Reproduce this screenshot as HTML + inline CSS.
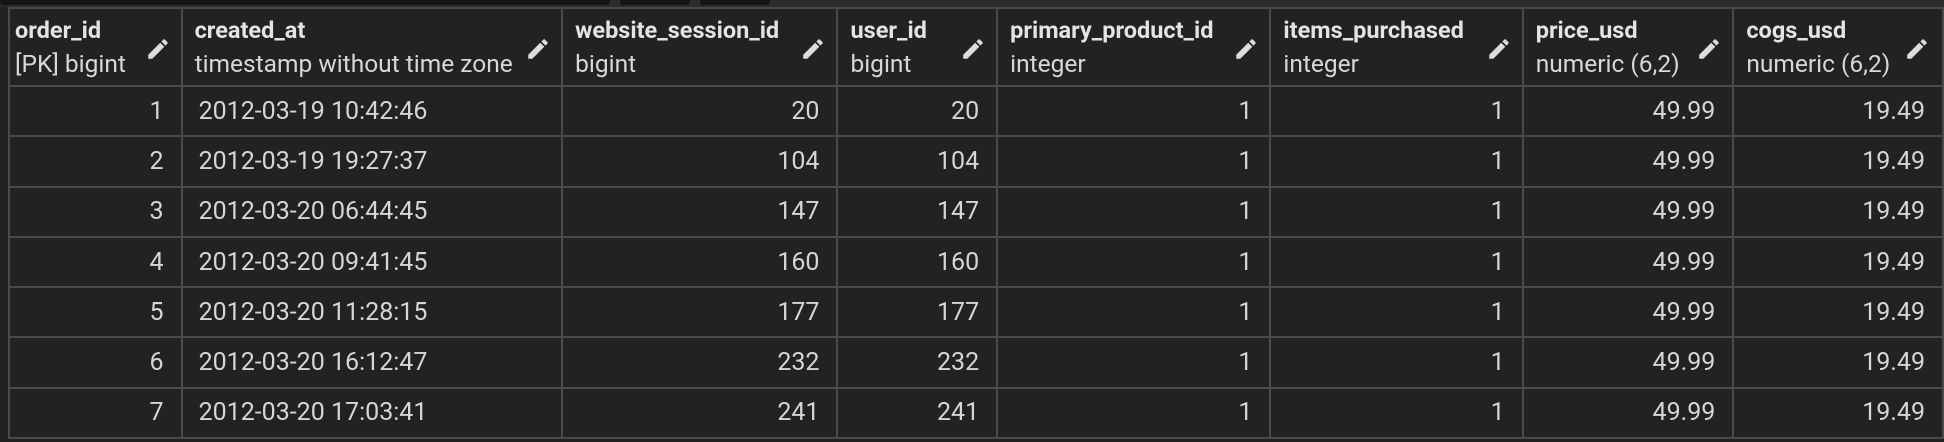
<!DOCTYPE html>
<html><head><meta charset="utf-8"><style>
html,body{margin:0;padding:0;background:#222;width:1944px;height:442px;overflow:hidden;font-family:"Roboto","Liberation Sans",sans-serif;}
#w{position:absolute;left:0;top:0;width:1944px;height:442px;overflow:hidden;background:#222;}
.top{position:absolute;left:0;top:0;width:1944px;height:7px;background:#2c2c2c;}
.top i{position:absolute;top:0;height:5px;background:#141414;border-radius:0 0 3px 3px}
table{position:absolute;left:8px;top:7px;border-collapse:collapse;table-layout:fixed;}
td,th{border:2px solid #4a4a4a;padding:0;color:#d6d6d6;font-size:25px;font-weight:normal;white-space:nowrap;overflow:hidden;}
th{height:76px;text-align:left;vertical-align:top;position:relative;}
th .n{position:absolute;left:12px;top:7px;font-weight:bold;color:#e4e4e4;font-size:23.5px;}
th .t{position:absolute;left:12px;top:40px;color:#d8d8d8;font-size:24.5px;}
th.f .n,th.f .t{left:5px}
th svg{position:absolute;right:10px;top:27px;}
td{height:48.3px;text-align:right;padding-right:17px;}
td.l{text-align:left;padding-left:16px;padding-right:0;}
.b{position:absolute;left:8px;top:440px;width:1936px;height:2px;border-left:2px solid #4a4a4a;}
</style></head><body><div id="w">
<div class="top"><i style="left:0;width:610px"></i><i style="left:620px;width:70px"></i><i style="left:700px;width:70px"></i></div>
<table>
<colgroup><col style="width:173px"><col style="width:381px"><col style="width:276px"><col style="width:160px"><col style="width:274px"><col style="width:253px"><col style="width:211px"><col style="width:210px"></colgroup>
<tr>
<th class="f"><span class="n">order_id</span><span class="t">[PK] bigint</span><svg width="26" height="26" viewBox="0 0 24 24"><path fill="#ddd" d="M3 17.25V21h3.75L17.81 9.94l-3.75-3.75L3 17.25zM20.71 7.04a1 1 0 0 0 0-1.41l-2.34-2.34a1 1 0 0 0-1.41 0l-1.83 1.83 3.75 3.75 1.83-1.83z"/></svg></th>
<th><span class="n">created_at</span><span class="t">timestamp without time zone</span><svg width="26" height="26" viewBox="0 0 24 24"><path fill="#ddd" d="M3 17.25V21h3.75L17.81 9.94l-3.75-3.75L3 17.25zM20.71 7.04a1 1 0 0 0 0-1.41l-2.34-2.34a1 1 0 0 0-1.41 0l-1.83 1.83 3.75 3.75 1.83-1.83z"/></svg></th>
<th><span class="n">website_session_id</span><span class="t">bigint</span><svg width="26" height="26" viewBox="0 0 24 24"><path fill="#ddd" d="M3 17.25V21h3.75L17.81 9.94l-3.75-3.75L3 17.25zM20.71 7.04a1 1 0 0 0 0-1.41l-2.34-2.34a1 1 0 0 0-1.41 0l-1.83 1.83 3.75 3.75 1.83-1.83z"/></svg></th>
<th><span class="n">user_id</span><span class="t">bigint</span><svg width="26" height="26" viewBox="0 0 24 24"><path fill="#ddd" d="M3 17.25V21h3.75L17.81 9.94l-3.75-3.75L3 17.25zM20.71 7.04a1 1 0 0 0 0-1.41l-2.34-2.34a1 1 0 0 0-1.41 0l-1.83 1.83 3.75 3.75 1.83-1.83z"/></svg></th>
<th><span class="n">primary_product_id</span><span class="t">integer</span><svg width="26" height="26" viewBox="0 0 24 24"><path fill="#ddd" d="M3 17.25V21h3.75L17.81 9.94l-3.75-3.75L3 17.25zM20.71 7.04a1 1 0 0 0 0-1.41l-2.34-2.34a1 1 0 0 0-1.41 0l-1.83 1.83 3.75 3.75 1.83-1.83z"/></svg></th>
<th><span class="n">items_purchased</span><span class="t">integer</span><svg width="26" height="26" viewBox="0 0 24 24"><path fill="#ddd" d="M3 17.25V21h3.75L17.81 9.94l-3.75-3.75L3 17.25zM20.71 7.04a1 1 0 0 0 0-1.41l-2.34-2.34a1 1 0 0 0-1.41 0l-1.83 1.83 3.75 3.75 1.83-1.83z"/></svg></th>
<th><span class="n">price_usd</span><span class="t">numeric (6,2)</span><svg width="26" height="26" viewBox="0 0 24 24"><path fill="#ddd" d="M3 17.25V21h3.75L17.81 9.94l-3.75-3.75L3 17.25zM20.71 7.04a1 1 0 0 0 0-1.41l-2.34-2.34a1 1 0 0 0-1.41 0l-1.83 1.83 3.75 3.75 1.83-1.83z"/></svg></th>
<th><span class="n">cogs_usd</span><span class="t">numeric (6,2)</span><svg width="26" height="26" viewBox="0 0 24 24" style="right:12px"><path fill="#ddd" d="M3 17.25V21h3.75L17.81 9.94l-3.75-3.75L3 17.25zM20.71 7.04a1 1 0 0 0 0-1.41l-2.34-2.34a1 1 0 0 0-1.41 0l-1.83 1.83 3.75 3.75 1.83-1.83z"/></svg></th>
</tr>
<tr><td>1</td><td class="l">2012-03-19 10:42:46</td><td>20</td><td>20</td><td>1</td><td>1</td><td>49.99</td><td>19.49</td></tr>
<tr><td>2</td><td class="l">2012-03-19 19:27:37</td><td>104</td><td>104</td><td>1</td><td>1</td><td>49.99</td><td>19.49</td></tr>
<tr><td>3</td><td class="l">2012-03-20 06:44:45</td><td>147</td><td>147</td><td>1</td><td>1</td><td>49.99</td><td>19.49</td></tr>
<tr><td>4</td><td class="l">2012-03-20 09:41:45</td><td>160</td><td>160</td><td>1</td><td>1</td><td>49.99</td><td>19.49</td></tr>
<tr><td>5</td><td class="l">2012-03-20 11:28:15</td><td>177</td><td>177</td><td>1</td><td>1</td><td>49.99</td><td>19.49</td></tr>
<tr><td>6</td><td class="l">2012-03-20 16:12:47</td><td>232</td><td>232</td><td>1</td><td>1</td><td>49.99</td><td>19.49</td></tr>
<tr><td>7</td><td class="l">2012-03-20 17:03:41</td><td>241</td><td>241</td><td>1</td><td>1</td><td>49.99</td><td>19.49</td></tr>
</table>
</div></body></html>
